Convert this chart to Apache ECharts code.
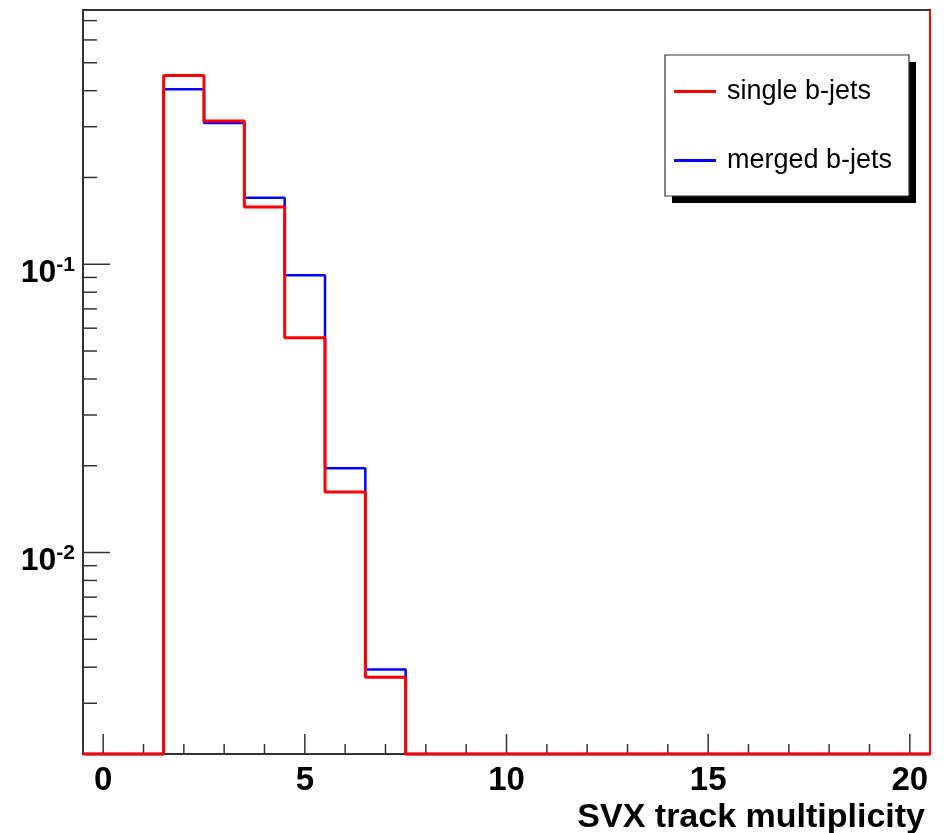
<!DOCTYPE html>
<html><head><meta charset="utf-8">
<script src="https://cdn.jsdelivr.net/npm/echarts@6/dist/echarts.min.js"></script>
<style>html,body{margin:0;padding:0;background:#fff}#c{width:944px;height:833px}</style>
</head><body><div id="c"></div>
<script>
// ---- data ----
const binCenters = [0,1,2,3,4,5,6,7,8,9,10,11,12,13,14,15,16,17,18,19,20];
const singleBJets = [0,0,0.452,0.314,0.158,0.0556,0.0162,0.00369,0,0,0,0,0,0,0,0,0,0,0,0,0];
const mergedBJets = [0,0,0.405,0.309,0.170,0.0916,0.0196,0.00393,0,0,0,0,0,0,0,0,0,0,0,0,0];
const xMajorTicks = [0,5,10,15,20];
const xMinorTicks = [0,1,2,3,4,5,6,7,8,9,10,11,12,13,14,15,16,17,18,19,20];
const yMajorTicks = [0.01,0.1];
const yMinorTicks = [0.002,0.003,0.004,0.005,0.006,0.007,0.008,0.009,0.02,0.03,0.04,0.05,0.06,0.07,0.08,0.09,0.2,0.3,0.4,0.5,0.6,0.7];
const seriesNames = ['single b-jets','merged b-jets'];
const xTitle = 'SVX track multiplicity';
const X_MIN = -0.5, X_MAX = 20.5, Y_MIN = 0.002, Y_MAX = 0.762;

function stepPoints(vals){
  const pts = [];
  binCenters.forEach((c,i)=>{
    const v = Math.max(vals[i], Y_MIN);
    pts.push([c-0.5, v], [c+0.5, v]);
  });
  return pts;
}

const tickData = [];
xMinorTicks.forEach(v=>{ if (xMajorTicks.indexOf(v) < 0) tickData.push({axis:'x', v, len:10}); });
xMajorTicks.forEach(v=>tickData.push({axis:'x', v, len:20}));
yMinorTicks.forEach(v=>tickData.push({axis:'y', v, len:14}));
yMajorTicks.forEach(v=>tickData.push({axis:'y', v, len:27}));

const FONT = 'Liberation Sans';
const chart = echarts.init(document.getElementById('c'), null, {renderer:'canvas'});
chart.setOption({
  animation:false,
  backgroundColor:'#fff',
  grid:{left:83, top:10, right:14, bottom:79, show:true, borderColor:'#333', borderWidth:2, backgroundColor:'transparent', containLabel:false},
  title:{text:xTitle, right:19, top:801, padding:0,
    textStyle:{fontFamily:FONT, fontSize:34, fontWeight:'bold', color:'#000'}},
  graphic:[
    {type:'rect', z:50, shape:{x:672, y:62, width:244, height:141}, style:{fill:'#000'}},
    {type:'rect', z:51, shape:{x:665, y:55, width:244, height:141}, style:{fill:'#fff', stroke:'#333', lineWidth:1.2}}
  ],
  legend:{
    data:seriesNames, orient:'vertical', left:665, top:55, align:'left', z:60,
    padding:[23,14,20,9], itemGap:42, itemWidth:42, itemHeight:3, icon:'rect',
    textStyle:{fontFamily:FONT, fontSize:27, color:'#000', padding:[0,0,0,6]},
    backgroundColor:'transparent', borderWidth:0
  },
  xAxis:{type:'value', min:X_MIN, max:X_MAX,
    axisLine:{show:false}, axisTick:{show:false}, splitLine:{show:false},
    axisLabel:{customValues:xMajorTicks, margin:10, fontFamily:FONT, fontSize:33, fontWeight:'bold', color:'#000'}
  },
  yAxis:{type:'log', min:Y_MIN, max:Y_MAX, logBase:10,
    axisLine:{show:false}, axisTick:{show:false}, splitLine:{show:false},
    axisLabel:{customValues:yMajorTicks, margin:8, padding:[18,0,0,0],
      formatter:function(v){ const e = Math.round(Math.log10(v)); return '{b|10}{s|' + e + '}'; },
      rich:{
        b:{fontFamily:FONT, fontSize:32, fontWeight:'bold', color:'#000'},
        s:{fontFamily:FONT, fontSize:21, fontWeight:'bold', color:'#000', verticalAlign:'top', padding:[0,0,16,0]}
      }
    }
  },
  series:[
    {type:'custom', name:'ticks', silent:true, clip:false, z:1,
      data:tickData.map(d=> d.axis==='x' ? [d.v, Y_MIN] : [X_MIN, d.v]),
      renderItem:function(params, api){
        const d = tickData[params.dataIndex];
        const p = api.coord(d.axis==='x' ? [d.v, Y_MIN] : [X_MIN, d.v]);
        const shape = d.axis==='x' ? {x1:p[0], y1:p[1], x2:p[0], y2:p[1]-d.len}
                                   : {x1:p[0], y1:p[1], x2:p[0]+d.len, y2:p[1]};
        return {type:'line', shape, style:{stroke:'#333', lineWidth:1.5}};
      }
    },
    {type:'line', name:seriesNames[1], data:stepPoints(mergedBJets), showSymbol:false, symbol:'none',
      clip:false, z:2, color:'#0000ff', lineStyle:{color:'#0000ff', width:2.5}},
    {type:'line', name:seriesNames[0], data:stepPoints(singleBJets), showSymbol:false, symbol:'none',
      clip:false, z:3, color:'#ff0000', lineStyle:{color:'#ff0000', width:3},
      markLine:{silent:true, symbol:'none', label:{show:false}, lineStyle:{color:'#ff0000', width:2, type:'solid'},
        data:[{xAxis:X_MAX}]}
    }
  ]
});
</script></body></html>
